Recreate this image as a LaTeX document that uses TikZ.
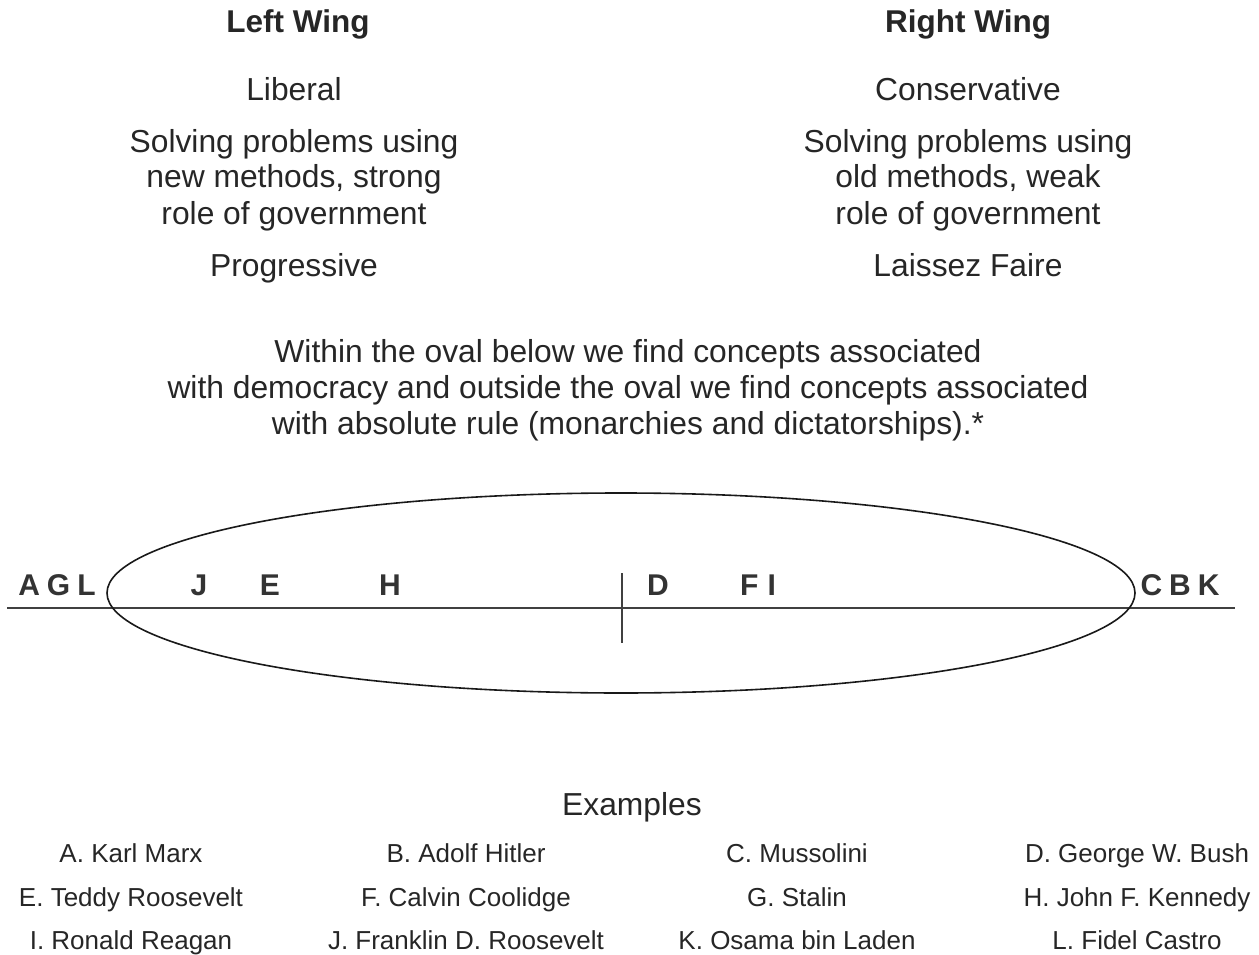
\documentclass[tikz,border=0pt]{standalone}
\usepackage{fontspec}
\setmainfont{Liberation Sans}
\usetikzlibrary{shapes.geometric}
\begin{document}
\begin{tikzpicture}[x=1pt,y=-1pt,
  every node/.style={anchor=base, inner sep=0pt},
  head/.style={font=\fontsize{31.5}{36}\selectfont\bfseries, text=black!85},
  body/.style={font=\fontsize{31.8}{36}\selectfont, text=black!85, align=center},
  letter/.style={font=\fontsize{30}{34}\selectfont\bfseries, text=black!80},
  ex/.style={font=\fontsize{26}{30}\selectfont, text=black!85},
  ln/.style={line width=1.6pt, draw=black!75}]
\useasboundingbox (0,0) rectangle (1259,955);
\node[head] (lw) at (298,33) {Left Wing};
\node[head] (rw) at (968,33) {Right Wing};
\node[body] (lib) at (294,101) {Liberal};
\node[body] (con) at (968,101) {Conservative};
% multi-line nodes: base anchor is the last line's baseline
\node[body] (lsol) at (294,224) {Solving problems using\\new methods, strong\\role of government};
\node[body] (rsol) at (968,224) {Solving problems using\\old methods, weak\\role of government};
\node[body] (prog) at (294,276) {Progressive};
\node[body] (lf) at (968,276) {Laissez Faire};
\node[body] (par) at (628,434) {Within the oval below we find concepts associated\\with democracy and outside the oval we find concepts associated\\with absolute rule (monarchies and dictatorships).*};
% axis and oval
\coordinate (l0) at (7,608);
\coordinate (l1) at (1235,608);
\draw[ln] (l0) -- (l1);
\node[draw=black!90, line width=1.6pt, ellipse, minimum width=1028pt, minimum height=200pt, inner sep=0pt, anchor=center] (oval) at (621,593) {};
\coordinate (t0) at (622,573);
\coordinate (t1) at (622,643);
\draw[ln] (t0) -- (t1);
\node[letter] (agl) at (57,595) {A\hspace{7pt}G\hspace{7pt}L};
\node[letter] (j) at (199,595) {J};
\node[letter] (e) at (270,595) {E};
\node[letter] (h) at (390,595) {H};
\node[letter] (d) at (658,595) {D};
\node[letter] (fi) at (758,595) {F\hspace{9pt}I};
\node[letter] (cbk) at (1180,595) {C\hspace{7pt}B\hspace{7pt}K};
\node[body] (exa) at (632,815) {Examples};
\node[ex] (a) at (131,862) {A. Karl Marx};
\node[ex] (b) at (466,862) {B. Adolf Hitler};
\node[ex] (c) at (797,862) {C. Mussolini};
\node[ex] (dd) at (1137,862) {D. George W. Bush};
\node[ex] (ee) at (131,906) {E. Teddy Roosevelt};
\node[ex] (f) at (466,906) {F. Calvin Coolidge};
\node[ex] (g) at (797,906) {G. Stalin};
\node[ex] (hh) at (1137,906) {H. John F. Kennedy};
\node[ex] (i) at (131,949) {I. Ronald Reagan};
\node[ex] (jj) at (466,949) {J. Franklin D. Roosevelt};
\node[ex] (k) at (797,949) {K. Osama bin Laden};
\node[ex] (l) at (1137,949) {L. Fidel Castro};
\end{tikzpicture}
\end{document}
